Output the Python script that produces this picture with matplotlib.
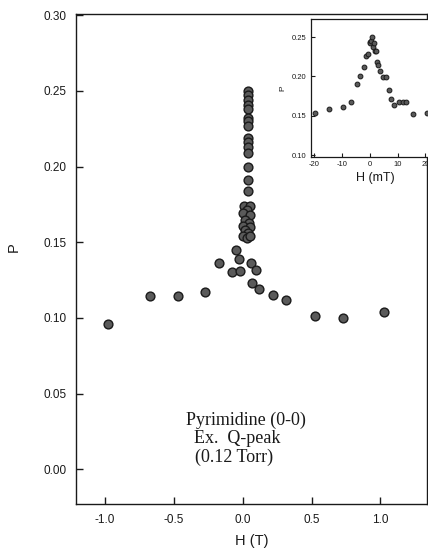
import numpy as np
import matplotlib
matplotlib.use("Agg")
import matplotlib.pyplot as plt

# main panel: H in tesla, P polarization
h_main = [-0.976, -0.672, -0.473, -0.273, -0.174, -0.077, -0.017, -0.046, -0.027,
          0.058, 0.094, 0.070, 0.118, 0.220, 0.316, 0.524, 0.725, 1.029,
          0.035, 0.035, 0.035, 0.035, 0.035, 0.035, 0.035, 0.035, 0.035, 0.035,
          0.035, 0.035, 0.035, 0.035, 0.035,
          0.010, 0.050, 0.030, 0.000, 0.055, 0.015, 0.045, 0.000, 0.050, 0.020,
          0.040, 0.000, 0.030, 0.052]
p_main = [0.096, 0.1147, 0.1147, 0.117, 0.136, 0.130, 0.131, 0.145, 0.1386,
          0.136, 0.1316, 0.123, 0.119, 0.115, 0.112, 0.101, 0.100, 0.104,
          0.250, 0.247, 0.244, 0.241, 0.238, 0.232, 0.230, 0.227, 0.219, 0.216,
          0.213, 0.209, 0.200, 0.191, 0.184,
          0.174, 0.174, 0.171, 0.169, 0.168, 0.165, 0.163, 0.161, 0.160, 0.158,
          0.156, 0.154, 0.153, 0.154]

# inset: H in mT
h_ins = [-19.6, -14.6, -9.5, -6.5, -4.4, -3.3, -2.1, -1.2, -0.5, 0.0, 0.2, 0.6, 0.9,
         1.2, 1.4, 2.1, 2.4, 2.6, 3.0, 3.6, 4.8, 5.7, 6.8, 7.7, 8.7, 10.7, 11.9,
         13.1, 15.7, 20.4]
p_ins = [0.153, 0.158, 0.161, 0.168, 0.190, 0.200, 0.212, 0.226, 0.228, 0.244, 0.242,
         0.245, 0.250, 0.2375, 0.242, 0.232, 0.232, 0.218, 0.214, 0.207, 0.199, 0.199,
         0.183, 0.171, 0.164, 0.168, 0.168, 0.168, 0.152, 0.153]

main_xticks = [-1.0, -0.5, 0.0, 0.5, 1.0]
main_yticks = [0.00, 0.05, 0.10, 0.15, 0.20, 0.25, 0.30]
ins_xticks = [-20, -10, 0, 10, 20]
ins_yticks = [0.10, 0.15, 0.20, 0.25]

ink = "#1a1a1a"
plt.rcParams["font.family"] = ["Liberation Sans", "DejaVu Sans"]
plt.rcParams["axes.unicode_minus"] = False

fig = plt.figure(figsize=(4.28, 5.49), dpi=100)
ax = fig.add_axes([0.178, 0.082, 0.82, 0.893])
ax.scatter(h_main, p_main, s=40, facecolor="#5a5a5a", edgecolor=ink, linewidth=1.0, zorder=3)
ax.set_xlim(-1.21, 1.34)
ax.set_ylim(-0.023, 0.301)
ax.set_xticks(main_xticks)
ax.set_xticklabels([f"{t:.1f}" for t in main_xticks])
ax.set_yticks(main_yticks)
ax.set_yticklabels([f"{t:.2f}" for t in main_yticks])
ax.tick_params(direction="in", length=5, width=1, colors=ink, labelsize=8.5, pad=7)
for s in ax.spines.values():
    s.set_color(ink)
    s.set_linewidth(1)
ax.set_xlabel("H (T)", fontsize=10.5, color=ink, labelpad=6)
ax.set_ylabel("P", fontsize=10.5, color=ink)
ax.yaxis.set_label_coords(-0.157, 0.524)

# sample note, lines placed one by one like the original
note_lines = ["Pyrimidine (0-0)", "Ex.  Q-peak", "(0.12 Torr)"]
note_x = [0.025, -0.04, -0.06]
note_y = [0.032, 0.0205, 0.008]
for txt, nx, ny in zip(note_lines, note_x, note_y):
    ax.text(nx, ny, txt, fontsize=13, family="Liberation Serif", color=ink,
            ha="center", va="center")

# inset
axi = fig.add_axes([0.7266, 0.714, 0.30, 0.2514])
axi.scatter(h_ins, p_ins, s=12, facecolor="#5a5a5a", edgecolor=ink, linewidth=0.7, zorder=3)
axi.set_xlim(-21, 25)
axi.set_ylim(0.0975, 0.273)
axi.set_xticks(ins_xticks)
axi.set_yticks(ins_yticks)
axi.set_yticklabels([f"{t:.2f}" for t in ins_yticks])
axi.tick_params(direction="in", length=3, width=0.8, colors=ink, labelsize=5.5, pad=3)
for s in axi.spines.values():
    s.set_color(ink)
    s.set_linewidth(0.9)
axi.set_xlabel("H (mT)", fontsize=9, color=ink, labelpad=3)
axi.set_ylabel("P", fontsize=6, color=ink, labelpad=4)

fig.savefig("out.png", dpi=100)
